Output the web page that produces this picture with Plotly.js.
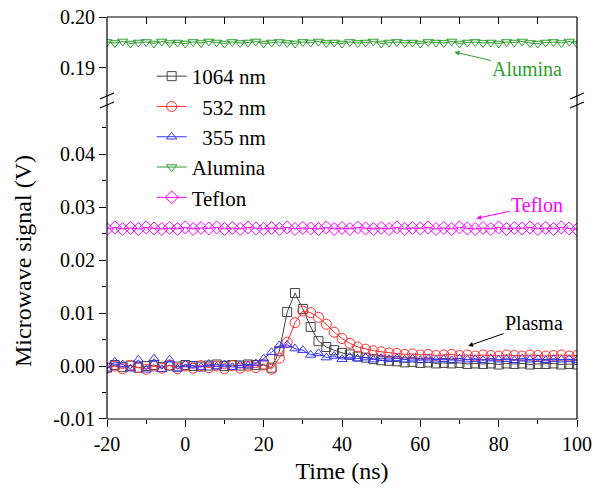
<!DOCTYPE html>
<html>
<head>
<meta charset="utf-8">
<script src="https://cdn.plot.ly/plotly-3.0.1.min.js"></script>
<style>html,body{margin:0;padding:0;background:#fff;}#chart{width:598px;height:488px;}</style>
</head>
<body>
<div id="chart"></div>
<script>
// Time axis (ns)
const time = [-20,-18,-16,-14,-12,-10,-8,-6,-4,-2,0,2,4,6,8,10,12,14,16,18,20,22,24,26,28,30,32,34,36,38,40,42,44,46,48,50,52,54,56,58,60,62,64,66,68,70,72,74,76,78,80,82,84,86,88,90,92,94,96,98,100];

const sig1064 = [-0.0003,0.0002,-0.0002,0.0001,-0.0003,0.0000,0.0002,-0.0002,0.0001,-0.0001,0.0002,0.0000,-0.0001,0.0001,0.0003,0.0000,0.0002,0.0001,0.0003,0.0002,0.0003,
  -0.0003,0.0028,0.0102,0.0138,0.0108,0.0074,0.0047,0.0036,0.0030,0.0025,0.0022,0.0018,0.0016,0.0013,0.0011,0.0010,0.0009,0.0007,0.0008,0.0006,
  0.0007,0.0005,0.0006,0.0005,0.0006,0.0004,0.0005,0.0004,0.0005,0.0003,0.0005,0.0004,0.0005,0.0003,0.0004,0.0004,0.0005,0.0003,0.0004,0.0003];

const sig532 = [-0.0004,0.0000,-0.0005,0.0001,-0.0003,-0.0006,0.0000,-0.0004,0.0002,-0.0005,0.0000,-0.0004,0.0001,-0.0003,0.0000,-0.0005,0.0001,-0.0004,0.0000,-0.0003,0.0002,
  -0.0006,0.0015,0.0045,0.0082,0.0104,0.0101,0.0092,0.0079,0.0064,0.0052,0.0043,0.0036,0.0032,0.0029,0.0027,0.0025,0.0024,0.0022,0.0023,0.0021,
  0.0022,0.0020,0.0021,0.0022,0.0020,0.0021,0.0019,0.0021,0.0020,0.0019,0.0021,0.0020,0.0019,0.0021,0.0020,0.0019,0.0020,0.0021,0.0019,0.0020];

const sig355 = [-0.0005,0.0008,0.0003,-0.0005,0.0012,-0.0007,0.0014,-0.0006,0.0012,-0.0005,0.0003,0.0001,-0.0002,0.0004,-0.0001,0.0003,-0.0002,0.0002,0.0001,0.0005,0.0014,
  0.0026,0.0039,0.0040,0.0033,0.0030,0.0021,0.0024,0.0016,0.0019,0.0013,0.0017,0.0014,0.0016,0.0012,0.0015,0.0013,0.0015,0.0012,0.0014,0.0011,
  0.0014,0.0012,0.0013,0.0011,0.0014,0.0012,0.0013,0.0011,0.0014,0.0012,0.0013,0.0011,0.0014,0.0012,0.0013,0.0011,0.0013,0.0012,0.0013,0.0011];

const sigAlumina = [0.1951,0.1949,0.1952,0.1948,0.1950,0.1951,0.1948,0.1952,0.1949,0.1950,0.1948,0.1951,0.1949,0.1952,0.1950,0.1948,0.1951,0.1949,0.1950,0.1952,0.1948,
  0.1950,0.1951,0.1949,0.1948,0.1951,0.1950,0.1952,0.1949,0.1950,0.1948,0.1951,0.1949,0.1950,0.1952,0.1948,0.1950,0.1951,0.1949,0.1950,0.1948,
  0.1951,0.1950,0.1949,0.1952,0.1948,0.1950,0.1951,0.1949,0.1950,0.1948,0.1951,0.1950,0.1952,0.1949,0.1948,0.1950,0.1951,0.1949,0.1952,0.1948];

const sigTeflon = [0.0259,0.0262,0.0259,0.0261,0.0259,0.0262,0.0260,0.0259,0.0261,0.0259,0.0262,0.0259,0.0261,0.0260,0.0262,0.0259,0.0261,0.0259,0.0262,0.0260,0.0259,
  0.0261,0.0259,0.0262,0.0259,0.0261,0.0260,0.0259,0.0262,0.0259,0.0261,0.0259,0.0262,0.0260,0.0259,0.0261,0.0259,0.0262,0.0259,0.0261,0.0260,
  0.0262,0.0259,0.0261,0.0259,0.0262,0.0260,0.0259,0.0261,0.0259,0.0262,0.0259,0.0261,0.0260,0.0262,0.0259,0.0261,0.0259,0.0262,0.0260,0.0258];

const seriesNames = ['1064 nm', '\u00a0\u00a0532 nm', '\u00a0\u00a0355 nm', 'Alumina', 'Teflon'];
const xTickVals = [-20, 0, 20, 40, 60, 80, 100];
const xTickText = ['-20', '0', '20', '40', '60', '80', '100'];
const yLowTickVals = [-0.01, 0, 0.01, 0.02, 0.03, 0.04];
const yLowTickText = ['-0.01', '0.00', '0.01', '0.02', '0.03', '0.04'];
const yUpTickVals = [0.19, 0.20];
const yUpTickText = ['0.19', '0.20'];

const FONT = 'Liberation Serif';
const green = '#2e9e2e';
const magenta = '#ff00ff';

function tr(y, name, color, symbol, size, xa, ya) {
  return {
    x: time, y: y, name: name, type: 'scatter', mode: 'lines+markers',
    xaxis: xa, yaxis: ya,
    line: {color: color, width: 1},
    marker: {symbol: symbol, size: size, color: color, line: {color: color, width: 1}},
    cliponaxis: true
  };
}

const data = [
  tr(sig1064, seriesNames[0], '#444444', 'square-open', 9, 'x', 'y'),
  tr(sig532, seriesNames[1], '#ff3030', 'circle-open', 10, 'x', 'y'),
  tr(sig355, seriesNames[2], '#3535ff', 'triangle-up-open', 9, 'x', 'y'),
  tr(sigAlumina, seriesNames[3], green, 'triangle-down-open', 9, 'x2', 'y2'),
  tr(sigTeflon, seriesNames[4], magenta, 'diamond-open', 10, 'x', 'y')
];

const tickfont = {family: FONT, size: 20, color: '#000'};
const lowDom = [0, 0.786];
const upDom = [0.801, 1];
const lowRange = [-0.01, 0.0497];
const upRange = [0.18431, 0.2];

const breakY = 0.7935;
const lineStyle = {color: '#000', width: 1.2};
const shapes = [
  {type: 'line', xref: 'paper', yref: 'paper', x0: 0, x1: 0, y0: 0, y1: 1, line: lineStyle},
  {type: 'line', xref: 'paper', yref: 'paper', x0: 1, x1: 1, y0: 0, y1: 1, line: lineStyle},
  {type: 'line', xref: 'paper', yref: 'paper', x0: 0, x1: 1, y0: 0, y1: 0, line: lineStyle},
  {type: 'line', xref: 'paper', yref: 'paper', x0: 0, x1: 1, y0: 1, y1: 1, line: lineStyle},
];
[0, 1].forEach(function (xa) {
  [[1, 7], [-8, -2]].forEach(function (o) {
    shapes.push({type: 'line', xref: 'paper', yref: 'paper', xsizemode: 'pixel', ysizemode: 'pixel',
      xanchor: xa, yanchor: breakY, x0: -7, x1: 7, y0: o[0], y1: o[1], line: {color: '#000', width: 1.2}});
  });
});

const layout = {
  width: 598, height: 488,
  margin: {l: 107, r: 21, t: 17, b: 69},
  paper_bgcolor: '#fff', plot_bgcolor: '#fff',
  font: {family: FONT, color: '#000'},
  showlegend: true,
  legend: {x: 0.095, y: 0.903, xanchor: 'left', yanchor: 'top', bgcolor: 'rgba(0,0,0,0)',
           font: {family: FONT, size: 21, color: '#000'}, tracegroupgap: 0, itemwidth: 30},
  xaxis: {domain: [0, 1], range: [-20, 100], anchor: 'y', tickvals: xTickVals, ticktext: xTickText,
          ticks: 'outside', ticklen: 7, tickwidth: 1, tickcolor: '#000',
          minor: {dtick: 10, tick0: -20, ticks: 'outside', ticklen: 4, tickwidth: 1, tickcolor: '#000'},
          showline: false, showgrid: false, zeroline: false, tickfont: tickfont,
          title: {text: 'Time (ns)', font: {family: FONT, size: 24, color: '#000'}, standoff: 8}},
  xaxis2: {domain: [0, 1], range: [-20, 100], anchor: 'y2', side: 'top', dtick: 10, tick0: -20,
           ticks: 'inside', ticklen: 7, tickwidth: 1, tickcolor: '#000', showticklabels: false,
           showline: false, showgrid: false, zeroline: false},
  yaxis: {domain: lowDom, range: lowRange, anchor: 'x', tickvals: yLowTickVals, ticktext: yLowTickText,
          ticks: 'outside', ticklen: 7, tickwidth: 1, tickcolor: '#000',
          minor: {dtick: 0.005, tick0: 0, ticks: 'outside', ticklen: 4, tickwidth: 1, tickcolor: '#000'},
          showline: false, showgrid: false, zeroline: false, tickfont: tickfont, automargin: true,
          title: {text: 'Microwave signal (V)', font: {family: FONT, size: 24, color: '#000'}, standoff: 14}},
  yaxis2: {domain: upDom, range: upRange, anchor: 'x2', tickvals: yUpTickVals, ticktext: yUpTickText,
           ticks: 'outside', ticklen: 7, tickwidth: 1, tickcolor: '#000',
           showline: false, showgrid: false, zeroline: false, tickfont: tickfont},
  yaxis3: {overlaying: 'y', side: 'right', anchor: 'x', range: lowRange, dtick: 0.005, tick0: 0,
           ticks: 'inside', ticklen: 7, tickwidth: 1, tickcolor: '#000', showticklabels: false,
           showline: false, showgrid: false, zeroline: false},
  yaxis4: {overlaying: 'y2', side: 'right', anchor: 'x2', range: upRange, dtick: 0.01, tick0: 0,
           ticks: 'inside', ticklen: 7, tickwidth: 1, tickcolor: '#000', showticklabels: false,
           showline: false, showgrid: false, zeroline: false},
  shapes: shapes,
  annotations: [
    {xref: 'x2', yref: 'y2', x: 68.7, y: 0.19314, text: 'Alumina', showarrow: true,
     axref: 'pixel', ayref: 'pixel', ax: 73, ay: 17, arrowhead: 2, arrowsize: 1, arrowwidth: 1,
     arrowcolor: green, font: {family: FONT, size: 20, color: green}},
    {xref: 'x', yref: 'y', x: 74.3, y: 0.0279, text: 'Teflon', showarrow: true,
     axref: 'pixel', ayref: 'pixel', ax: 61, ay: -13, arrowhead: 2, arrowsize: 1, arrowwidth: 1,
     arrowcolor: magenta, font: {family: FONT, size: 20, color: magenta}},
    {xref: 'x', yref: 'y', x: 72.2, y: 0.0038, text: 'Plasma', showarrow: true,
     axref: 'pixel', ayref: 'pixel', ax: 66, ay: -23, arrowhead: 2, arrowsize: 1, arrowwidth: 1,
     arrowcolor: '#000', font: {family: FONT, size: 20, color: '#000'}}
  ]
};

Plotly.newPlot('chart', data, layout, {displayModeBar: false, staticPlot: true});
</script>
</body>
</html>
